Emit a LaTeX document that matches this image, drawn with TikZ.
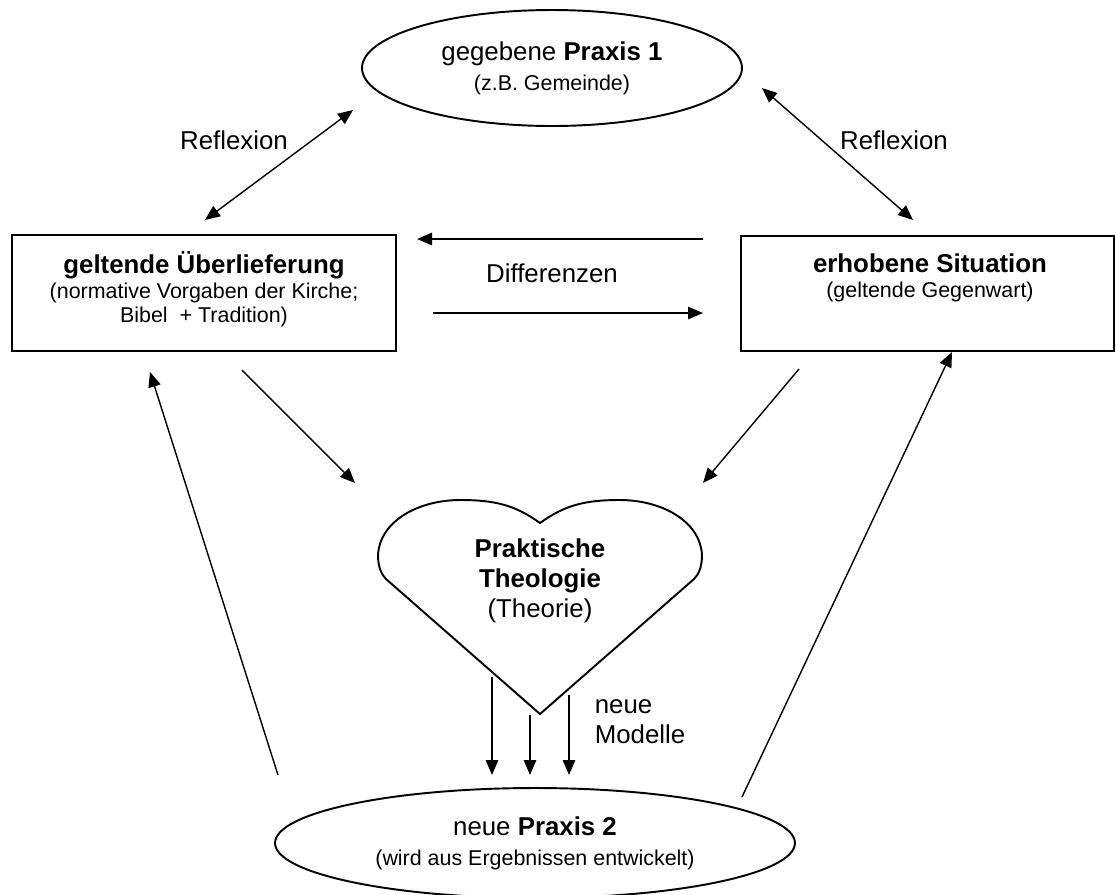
\documentclass[tikz,border=0pt]{standalone}
\usepackage{fontspec}
\setmainfont{Liberation Sans}
\usetikzlibrary{arrows.meta,shapes.geometric}
\newcommand{\hauptf}{\fontsize{14.7}{17}\selectfont}
\newcommand{\kleinf}{\fontsize{12.2}{13.7}\selectfont}
\tikzset{
  ell/.style={ellipse, draw, line width=1.1pt, inner sep=0pt, align=center, font=\hauptf},
  box/.style={rectangle, draw, line width=1.1pt, inner sep=0pt},
  txt/.style={align=center, font=\hauptf, inner sep=0pt},
  arr/.style={-{Triangle[length=0.3cm,width=0.25cm]}, line width=0.8pt},
  dblarr/.style={{Triangle[length=0.3cm,width=0.25cm]}-{Triangle[length=0.3cm,width=0.25cm]}, line width=0.8pt},
}
\begin{document}
\begin{tikzpicture}[x=0.02cm, y=-0.02cm]
\useasboundingbox (0,0) rectangle (1116,894);
% ellipses
\node[ell, minimum width=7.6cm, minimum height=2.32cm] (praxis1) at (552,68) {gegebene \textbf{Praxis 1}\\{\kleinf (z.B. Gemeinde)}};
\node[ell, minimum width=10.4cm, minimum height=2.2cm] (praxis2) at (535,843) {neue \textbf{Praxis 2}\\{\kleinf (wird aus Ergebnissen entwickelt)}};
% boxes
\node[box, minimum width=7.68cm, minimum height=2.32cm] (ueber) at (204,293) {};
\node[txt] (ueberT) at (204,265) {\textbf{geltende Überlieferung}};
\node[txt, font=\kleinf] (ueberS) at (204,305) {(normative Vorgaben der Kirche;\\Bibel~ + Tradition)};
\node[box, minimum width=7.46cm, minimum height=2.3cm] (sit) at (927.5,293.5) {};
\node[txt] (sitT) at (930,263) {\textbf{erhobene Situation}};
\node[txt, font=\kleinf] (sitS) at (930,292) {(geltende Gegenwart)};
% heart
\draw[line width=1.1pt] (540,523) .. controls (515,505) and (495,500) .. (460,500)
  .. controls (420,500) and (380,520) .. (378,555)
  .. controls (378,568) and (382,575) .. (386,579)
  -- (540,714) -- (694,579)
  .. controls (698,575) and (702,568) .. (702,555)
  .. controls (700,520) and (660,500) .. (620,500)
  .. controls (585,500) and (565,505) .. cycle;
\node[txt] (theo) at (540,581) {\textbf{Praktische}\\\textbf{Theologie}\\(Theorie)};
% labels
\node[txt] (refl1) at (234,140) {Reflexion};
\node[txt] (refl2) at (894,140) {Reflexion};
\node[txt] (diff) at (552,273) {Differenzen};
\node[txt, align=left] (modelle) at (640,722) {neue\\Modelle};
% arrow ends
\coordinate (r1a) at (205,220);  \coordinate (r1b) at (353,110);
\coordinate (r2a) at (762,88);   \coordinate (r2b) at (913,220);
\coordinate (d1a) at (703,239);  \coordinate (d1b) at (417,239);
\coordinate (d2a) at (433,313);  \coordinate (d2b) at (703,313);
\coordinate (t1a) at (242,370);  \coordinate (t1b) at (355,483);
\coordinate (t2a) at (799,369);  \coordinate (t2b) at (703,483);
\coordinate (u1a) at (278,775);  \coordinate (u1b) at (150,372);
\coordinate (u2a) at (742,797);  \coordinate (u2b) at (952,352);
\coordinate (m1a) at (492,677);  \coordinate (m1b) at (492,775);
\coordinate (m2a) at (530,715);  \coordinate (m2b) at (530,775);
\coordinate (m3a) at (569,695);  \coordinate (m3b) at (569,775);
% arrows
\draw[dblarr] (r1a) -- (r1b);
\draw[dblarr] (r2a) -- (r2b);
\draw[arr] (d1a) -- (d1b);
\draw[arr] (d2a) -- (d2b);
\draw[arr] (t1a) -- (t1b);
\draw[arr] (t2a) -- (t2b);
\draw[arr] (u1a) -- (u1b);
\draw[arr] (u2a) -- (u2b);
\draw[arr] (m1a) -- (m1b);
\draw[arr] (m2a) -- (m2b);
\draw[arr] (m3a) -- (m3b);
\end{tikzpicture}
\end{document}
